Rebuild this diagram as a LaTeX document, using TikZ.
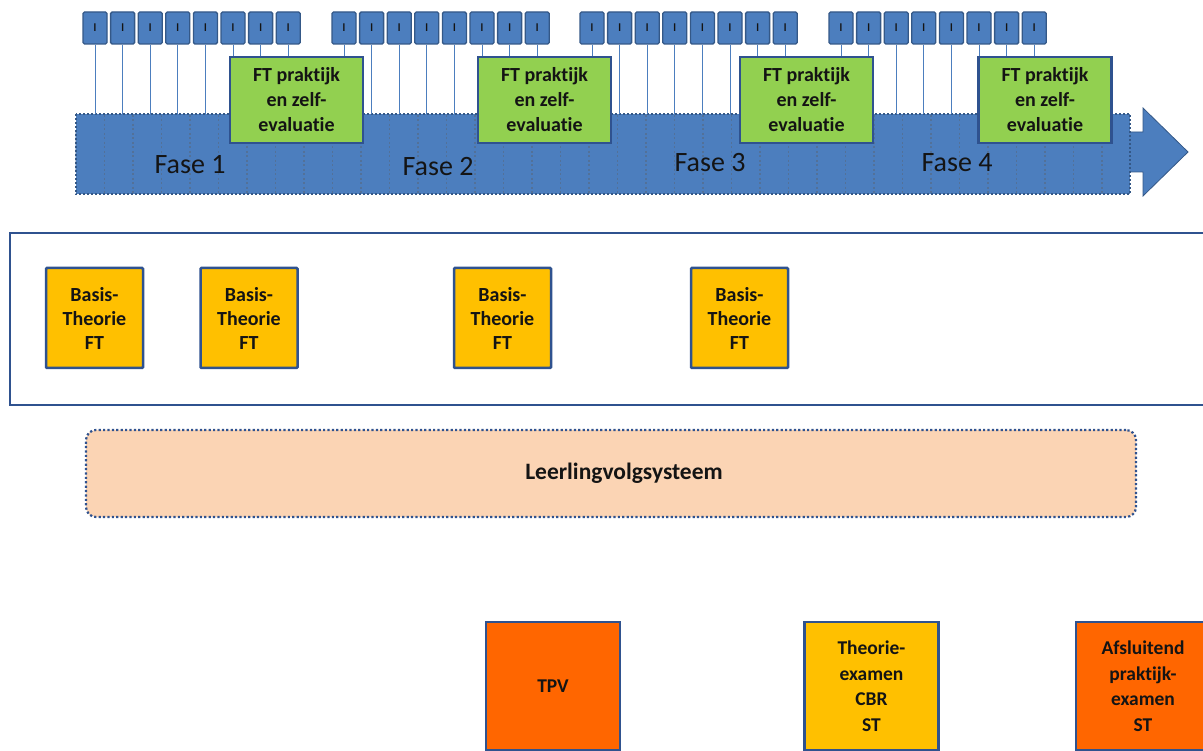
\documentclass[tikz,border=0pt]{standalone}
\usepackage{fontspec}
\setmainfont{Carlito}[Ligatures=CommonOff]
\definecolor{wkblue}{RGB}{76,126,190}
\definecolor{wkedge}{RGB}{52,88,135}
\definecolor{navy}{RGB}{47,82,143}
\definecolor{leaf}{RGB}{146,208,80}
\definecolor{amber}{RGB}{255,192,0}
\definecolor{flame}{RGB}{255,102,0}
\definecolor{peach}{RGB}{251,212,180}
\definecolor{ink}{RGB}{20,20,20}
\begin{document}
\begin{tikzpicture}[x=1pt,y=-1pt,
  week/.style={draw=wkedge, line width=1.3pt, fill=wkblue, minimum width=24pt,
    minimum height=32pt, inner sep=0pt, rounded corners=1.5pt,
    font=\fontsize{11}{11}\selectfont\bfseries, text=ink},
  link/.style={draw=wkblue, line width=0.9pt},
  timeline/.style={fill=wkblue, draw=none, minimum width=1054pt, minimum height=80pt, inner sep=0pt},
  seg/.style={draw=wkedge!85, line width=1.2pt, dash pattern=on 2pt off 2.5pt},
  phase/.style={font=\fontsize{28}{30}\selectfont, text=ink},
  praktijk/.style={draw=navy, line width=2.5pt, fill=leaf, minimum width=133pt,
    minimum height=86pt, inner sep=0pt, align=center, text=ink,
    font=\fontsize{20}{25}\selectfont\bfseries},
  basis/.style={draw=navy, line width=2.5pt, fill=amber, minimum width=97pt,
    minimum height=100pt, inner sep=0pt, align=center, text=ink, rounded corners=1pt,
    font=\fontsize{20}{24}\selectfont\bfseries},
  exam/.style={draw=navy, line width=2.5pt, minimum width=134pt,
    minimum height=128pt, inner sep=0pt, align=center, text=ink,
    font=\fontsize{19.5}{25.5}\selectfont\bfseries},
  lvs/.style={draw=navy, line width=2.2pt, fill=peach, dash pattern=on 2.2pt off 2.2pt,
    rounded corners=10pt, minimum width=1050pt, minimum height=87pt, inner sep=0pt},
  lvslabel/.style={text=ink, font=\fontsize{23.5}{26}\selectfont\bfseries}
]
\useasboundingbox (0,0) rectangle (1203,751);
\clip (0,0) rectangle (1203,751);

% timeline arrow underneath the week blocks
\fill[wkblue, draw=wkedge, line width=0.8pt]
  (76,132) -- (1143,132) -- (1143,108) -- (1188,152) -- (1143,196) -- (1143,172) -- (76,172) -- cycle;
\node[timeline] (body) at (603,154) {};
\foreach \k in {1,...,36}
  \draw[seg] ({76+\k*28.5},115) -- ({76+\k*28.5},193);
\draw[draw=wkedge, line width=1.6pt, dash pattern=on 2pt off 2pt]
  (body.north west) rectangle (body.south east);

% phase labels
\node[phase] (f1) at (190,165) {Fase 1};
\node[phase] (f2) at (438,167) {Fase 2};
\node[phase] (f3) at (710,163) {Fase 3};
\node[phase] (f4) at (957,163) {Fase 4};

% practical sessions
\node[praktijk] (g1) at (296.5,100) {FT praktijk\\en zelf-\\evaluatie};
\node[praktijk] (g2) at (544.5,100) {FT praktijk\\en zelf-\\evaluatie};
\node[praktijk] (g3) at (806.5,100) {FT praktijk\\en zelf-\\evaluatie};
\node[praktijk] (g4) at (1045,100) {FT praktijk\\en zelf-\\evaluatie};

% weekly lessons
\foreach \g/\s in {1/83,2/332,3/580,4/829}
  \foreach \i in {0,...,7}
    \node[week] (w\g\i) at ({\s+12+27.6*\i},28) {l};

% each lesson hangs on the timeline or on a practical session
\foreach \w/\t in {10/body,11/body,12/body,13/body,14/body,15/g1,16/g1,17/g1,
                   20/g1,21/body,22/body,23/body,24/body,25/g2,26/g2,27/g2,
                   30/g2,31/body,32/body,33/body,34/body,35/body,36/g3,37/g3,
                   40/g3,41/g3,42/body,43/body,44/body,45/g4,46/g4,47/g4}
  \draw[link] (w\w.south) -- (w\w.south |- \t.north);

% theory block
\draw[navy, line width=2.5pt] (10,233) rectangle (1215,405);
\node[basis] (b1) at (94.5,318) {Basis-\\Theorie\\FT};
\node[basis] (b2) at (249,318) {Basis-\\Theorie\\FT};
\node[basis] (b3) at (502.5,318) {Basis-\\Theorie\\FT};
\node[basis] (b4) at (739.5,318) {Basis-\\Theorie\\FT};

% tracking system
\node[lvs] (lvs) at (611,473.5) {};
\node[lvslabel] (lvstext) at (624,473.5) {Leerlingvolgsysteem};

% exams
\node[exam, fill=flame] (tpv) at (553,686) {TPV};
\node[exam, fill=amber] (cbr) at (871.5,686) {Theorie-\\examen\\CBR\\ST};
\node[exam, fill=flame] (afs) at (1143,686) {Afsluitend\\praktijk-\\examen\\ST};
\end{tikzpicture}
\end{document}
